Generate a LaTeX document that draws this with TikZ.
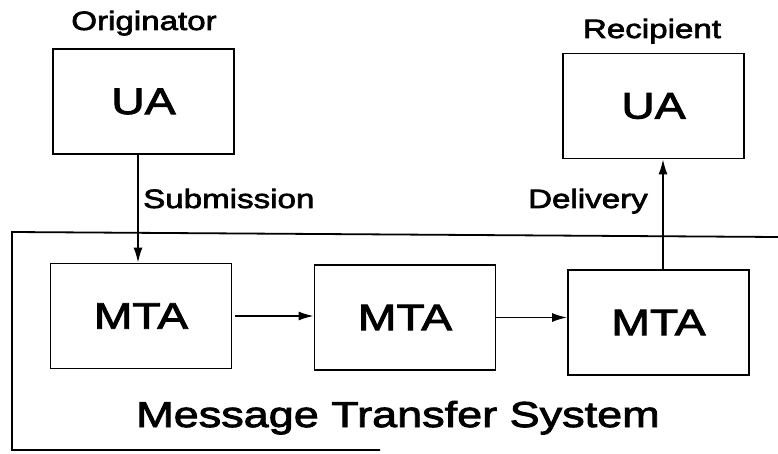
\documentclass[tikz,border=0pt]{standalone}
\usepackage{fontspec}
\setmainfont{Liberation Sans}[FakeStretch=1.25,FakeBold=2.5]
\usetikzlibrary{arrows.meta}
\begin{document}
\begin{tikzpicture}[x=1pt,y=-1pt,
  box/.style={draw, line width=1.8pt, minimum width=181pt, minimum height=105pt,
    inner sep=0pt, font=\fontsize{37}{40}\selectfont},
  lbl/.style={font=\fontsize{26.5}{30}\selectfont, inner sep=0pt},
  flow/.style={line width=1.5pt, -{Latex[length=15pt,width=9pt]}},
  sysline/.style={line width=1.8pt, line join=miter},
]
\useasboundingbox (0,0) rectangle (778,454);

% user agents and transfer agents
\node[box] (ua1)  at (143.5,101.5) {UA};
\node[box] (ua2)  at (653.5,106)   {UA};
\node[box] (mta1) at (141,316)     {MTA};
\node[box] (mta2) at (405,317.5)   {MTA};
\node[box] (mta3) at (658.5,322.5) {MTA};

% labels
\node[lbl, anchor=base]      (orig)  at (144,30)  {Originator};
\node[lbl, anchor=base]      (recip) at (652,38)  {Recipient};
\node[lbl, anchor=base west] (sub)   at (143,208) {Submission};
\node[lbl, anchor=base east] (deliv) at (648,208) {Delivery};
\node[font=\fontsize{36}{40}\selectfont, inner sep=0pt, anchor=base] (mts) at (398,427) {Message Transfer System};

% open frame of the transfer system
\coordinate (sysTR) at (778,237);
\coordinate (sysTL) at (12,232);
\coordinate (sysBL) at (12,450);
\coordinate (sysBR) at (380,450);
\draw[sysline] (sysTR) -- (sysTL) -- (sysBL) -- (sysBR);

% message flow
\draw[flow] ([xshift=-5.5pt]ua1.south) -- ([xshift=-3pt]mta1.north);
\draw[flow] ([xshift=3pt]mta1.east) -- (mta2.west |- mta1.east);
\draw[flow] (mta2.east) -- (mta3.west |- mta2.east);
\draw[flow] ([xshift=4.5pt]mta3.north) -- ([xshift=9.5pt]ua2.south);
\end{tikzpicture}
\end{document}
